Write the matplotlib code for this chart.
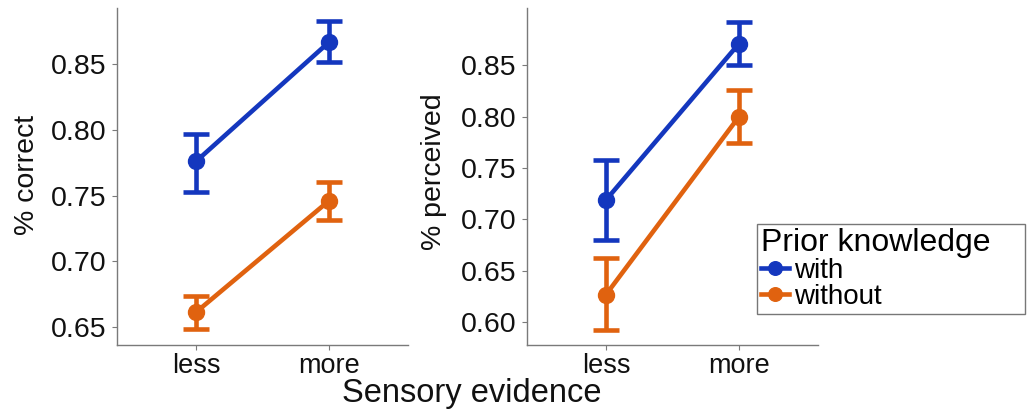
import numpy as np
import matplotlib
matplotlib.use('Agg')
import matplotlib.pyplot as plt

plt.rcParams['font.family'] = ['Liberation Sans', 'DejaVu Sans']

# data
evidence = ['less', 'more']
groups = ['with', 'without']

correct_with = [0.776, 0.867]
correct_with_lo = [0.753, 0.852]
correct_with_hi = [0.797, 0.883]
correct_without = [0.661, 0.746]
correct_without_lo = [0.648, 0.731]
correct_without_hi = [0.673, 0.760]

perc_with = [0.719, 0.871]
perc_with_lo = [0.680, 0.850]
perc_with_hi = [0.758, 0.892]
perc_without = [0.627, 0.800]
perc_without_lo = [0.593, 0.774]
perc_without_hi = [0.663, 0.826]

blue = '#1437BE'
orange = '#E0620F'
spine_col = '#7a7a7a'
txt = '#111111'

W, H = 1027, 412
fig = plt.figure(figsize=(W / 100, H / 100), dpi=100)

def draw_panel(ax, series, ylabel, ylim, yticks, ylab_x, ylab_y):
    x = np.arange(1, len(evidence) + 1)
    handles = []
    for (mean, lo, hi), col in series:
        mean = np.array(mean)
        err = [mean - np.array(lo), np.array(hi) - mean]
        ax.errorbar(x, mean, yerr=err, fmt='none', ecolor=col, elinewidth=3.3,
                    capsize=9.5, capthick=3.3, zorder=2)
        h, = ax.plot(x, mean, color=col, lw=3.3, marker='o', ms=11.5, zorder=3)
        handles.append(h)
    ax.set_xlim(0.406, 2.594)
    ax.set_ylim(*ylim)
    ax.set_xticks(x)
    ax.set_xticklabels(evidence, fontsize=19.5)
    ax.set_yticks(yticks)
    ax.set_yticklabels(['%.2f' % t for t in yticks], fontsize=20.5)
    for s in ['top', 'right']:
        ax.spines[s].set_visible(False)
    for s in ['left', 'bottom']:
        ax.spines[s].set_color(spine_col)
        ax.spines[s].set_linewidth(1.0)
    ax.tick_params(colors=spine_col, labelcolor=txt, length=3.5, width=0.8, pad=4)
    ax.tick_params(axis='x', pad=2)
    ax.set_ylabel(ylabel, fontsize=20.5, color=txt)
    ax.yaxis.set_label_coords(ylab_x, ylab_y)
    return handles

ax1 = fig.add_axes([117 / W, (H - 345) / H, 291 / W, 337 / H])
draw_panel(ax1,
           [((correct_with, correct_with_lo, correct_with_hi), blue),
            ((correct_without, correct_without_lo, correct_without_hi), orange)],
           '% correct', (0.636, 0.893), [0.65, 0.70, 0.75, 0.80, 0.85],
           -0.265, 0.505)

ax2 = fig.add_axes([527 / W, (H - 345) / H, 291 / W, 337 / H])
handles = draw_panel(ax2,
                     [((perc_with, perc_with_lo, perc_with_hi), blue),
                      ((perc_without, perc_without_lo, perc_without_hi), orange)],
                     '% perceived', (0.578, 0.9056), [0.60, 0.65, 0.70, 0.75, 0.80, 0.85],
                     -0.275, 0.515)

fig.text(471.5 / W, 1 - 402 / H, 'Sensory evidence', ha='center', va='baseline',
         fontsize=23.5, color=txt)

leg = fig.legend(handles, groups, title='Prior knowledge', loc='upper left',
                 bbox_to_anchor=(757 / W, 1 - 224 / H, 268 / W, 0), mode='expand',
                 fontsize=20, title_fontsize=23, frameon=True, fancybox=False,
                 handlelength=1.0, handletextpad=0.2, borderpad=0.15,
                 labelspacing=0.0, borderaxespad=0, markerscale=0.85)
leg._legend_box.align = 'left'
leg._legend_box.sep = 0
leg.get_frame().set_edgecolor('#555555')
leg.get_frame().set_linewidth(1.0)

fig.savefig('out.png', dpi=100)
